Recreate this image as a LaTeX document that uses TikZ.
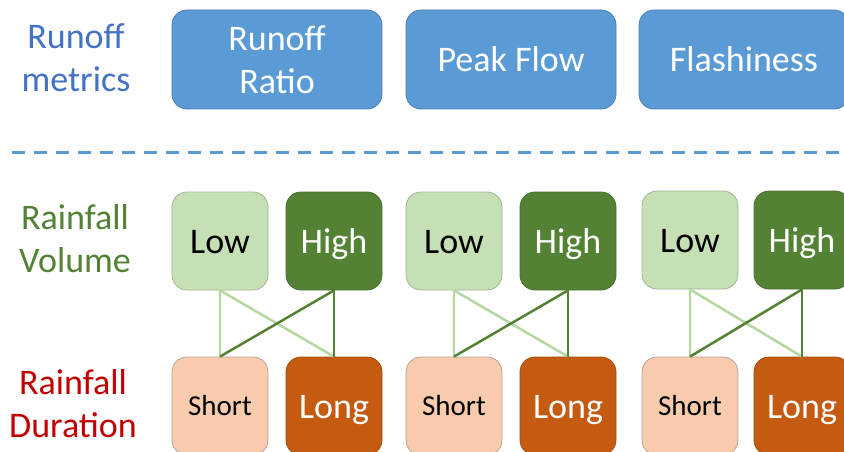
\documentclass[tikz,border=0pt]{standalone}
\usepackage{fontspec}
\setmainfont{Carlito}
\definecolor{mblue}{HTML}{5B9BD5}
\definecolor{mblueb}{HTML}{4A80B5}
\definecolor{lblue}{HTML}{4472C4}
\definecolor{lgreen}{HTML}{C5E0B4}
\definecolor{lgreenb}{HTML}{9FB894}
\definecolor{lgline}{HTML}{B5D8A0}
\definecolor{dgreen}{HTML}{548235}
\definecolor{dgreenb}{HTML}{4A6F33}
\definecolor{lorange}{HTML}{F8CBAD}
\definecolor{lorangeb}{HTML}{B8A49A}
\definecolor{dorange}{HTML}{C55A11}
\definecolor{dorangeb}{HTML}{A0500F}
\definecolor{dred}{HTML}{C00000}
\begin{document}
\begin{tikzpicture}[x=1pt,y=-1pt,
  big/.style={font=\fontsize{36}{43}\selectfont},
  lab/.style={big,align=center,inner sep=0pt},
  metric/.style={big,rounded corners=15pt,minimum width=210pt,minimum height=99pt,inner sep=0pt,fill=mblue,draw=mblueb,line width=0.8pt,text=white,align=center},
  cell/.style={big,rounded corners=15pt,minimum width=96pt,minimum height=98pt,inner sep=0pt,line width=0.8pt,text height=25pt,text depth=1pt},
  lowbox/.style={cell,fill=lgreen,draw=lgreenb,text=black},
  highbox/.style={cell,fill=dgreen,draw=dgreenb,text=white},
  shortbox/.style={cell,fill=lorange,draw=lorangeb,text=black,font=\fontsize{29}{35}\selectfont,text height=19pt},
  longbox/.style={cell,fill=dorange,draw=dorangeb,text=white},
  lline/.style={draw=lgline,line width=2.5pt},
  dline/.style={draw=dgreen,line width=2.5pt},
  sep/.style={draw=mblue,line width=3pt,dash pattern=on 13pt off 9pt}
]
\useasboundingbox (0,0) rectangle (844,452);
\fill[white] (0,0) rectangle (844,452);

% left labels
\node[lab,text=lblue] (lm) at (76,58) {Runoff\\metrics};
\node[lab,text=dgreen] (lv) at (75,239) {Rainfall\\Volume};
\node[lab,text=dred] (ld) at (73,404) {Rainfall\\Duration};

% metric boxes
\node[metric] (rr) at (277,59.5) {Runoff\\Ratio};
\node[metric] (pf) at (511,59.5) {Peak Flow};
\node[metric] (fl) at (744,59.5) {Flashiness};

% separator
\coordinate (sl) at (12,152);
\coordinate (sr) at (850,152);
\draw[sep] (sl) -- (sr);

% volume boxes
\node[lowbox] (low1) at (220,241) {Low};
\node[highbox] (high1) at (334,241) {High};
\node[lowbox] (low2) at (454,241) {Low};
\node[highbox] (high2) at (568,241) {High};
\node[lowbox] (low3) at (690,240) {Low};
\node[highbox] (high3) at (802,240) {High};

% duration boxes
\node[shortbox] (short1) at (220,406) {Short};
\node[longbox] (long1) at (334,406) {Long};
\node[shortbox] (short2) at (454,406) {Short};
\node[longbox] (long2) at (568,406) {Long};
\node[shortbox] (short3) at (690,406) {Short};
\node[longbox] (long3) at (802,406) {Long};

% connectors
\foreach \i in {1,2,3}{
  \draw[lline] (low\i.south) -- (short\i.north);
  \draw[lline] (low\i.south) -- (long\i.north);
  \draw[dline] (high\i.south) -- (short\i.north);
  \draw[dline] (high\i.south) -- (long\i.north);
}
\end{tikzpicture}
\end{document}
